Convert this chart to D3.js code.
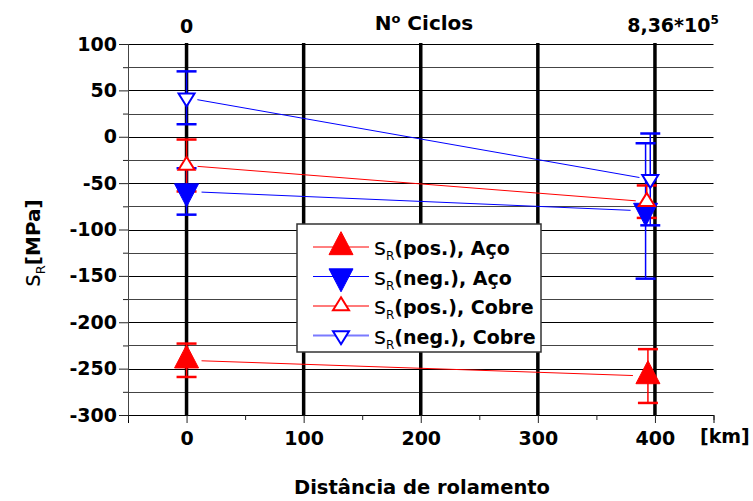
<!DOCTYPE html>
<html>
<head>
<meta charset="utf-8">
<script src="https://cdn.jsdelivr.net/npm/d3@7"></script>
<style>
    body { margin: 0; background: #fff; }
    text { font-family: "DejaVu Sans", Arial, sans-serif; font-weight: bold; fill: #000; }
</style>
</head>
<body>
<svg id="chart" width="753" height="501"></svg>
<script>
// Data (x in km, residual stress in MPa)
const xTicksMajor = [0, 100, 200, 300, 400];
const xTicksMinor = [-50, 50, 150, 250, 350, 450];
const yTicksMajor = [100, 50, 0, -50, -100, -150, -200, -250, -300];
const yTicksMinor = [75, 25, -25, -75, -125, -175, -225, -275];

const legendLabels = ["(pos.), Aço", "(neg.), Aço", "(pos.), Cobre", "(neg.), Cobre"];

const posAcoX = [0, 394];
const posAco = [-241, -258];
const posAcoErr = [18, 29];

const negAcoX = [0, 392];
const negAco = [-59, -80];
const negAcoErr = [25, 73];

const posCobreX = [0, 393];
const posCobre = [-31, -70];
const posCobreErr = [28, 17.5];

const negCobreX = [0, 396];
const negCobre = [42, -46];
const negCobreErr = [28.5, 49.5];

const series = [
    { x: posAcoX, y: posAco, err: posAcoErr, color: "#ff0000", legendColor: "#ff0000", dir: "up", filled: true },
    { x: negAcoX, y: negAco, err: negAcoErr, color: "#0000ff", legendColor: "#0000ff", dir: "down", filled: true },
    { x: posCobreX, y: posCobre, err: posCobreErr, color: "#ff0000", legendColor: "#ff7a7a", dir: "up", filled: false },
    { x: negCobreX, y: negCobre, err: negCobreErr, color: "#0000ff", legendColor: "#7a7aff", dir: "down", filled: false }
];

const svg = d3.select("#chart");

const x = d3.scaleLinear().domain([-50, 450]).range([128, 713.5]);
const y = d3.scaleLinear().domain([-300, 100]).range([415, 44]);

// plain hyphen for negative numbers, like the original
const fmt = d => String(d);

// Triangle path with its centroid at the origin
function trianglePath(dir, w, h) {
    const s = dir === "up" ? 1 : -1;
    return `M0,${-s * 2 * h / 3}L${w / 2},${s * h / 3}L${-w / 2},${s * h / 3}Z`;
}

function markerSize(d) {
    return d.filled ? { w: 24, h: 23 } : { w: 16, h: 13 };
}

// Grid lines
const grid = svg.append("g");
grid.selectAll(".hgrid")
    .data(yTicksMajor.concat(yTicksMinor))
    .enter().append("line")
    .attr("x1", x(-50)).attr("x2", x(450))
    .attr("y1", d => Math.round(y(d)) + 0.5)
    .attr("y2", d => Math.round(y(d)) + 0.5)
    .attr("stroke", d => d % 50 === 0 ? "#000" : "#444")
    .attr("stroke-width", 1);

grid.selectAll(".vgrid")
    .data(xTicksMajor)
    .enter().append("line")
    .attr("x1", d => x(d)).attr("x2", d => x(d))
    .attr("y1", y(100) - 1).attr("y2", y(-300))
    .attr("stroke", "#000")
    .attr("stroke-width", 3.5);

// Axes
const yAxis = svg.append("g")
    .attr("transform", `translate(${x(-50)},0)`)
    .call(d3.axisLeft(y).tickValues(yTicksMajor).tickSize(9).tickPadding(2).tickFormat(fmt));
svg.append("g")
    .attr("transform", `translate(${x(-50)},0)`)
    .call(d3.axisLeft(y).tickValues(yTicksMinor).tickSize(5).tickFormat(""))
    .select(".domain").remove();

const xAxis = svg.append("g")
    .attr("transform", `translate(0,${y(-300)})`)
    .call(d3.axisBottom(x).tickValues(xTicksMajor).tickSize(8).tickPadding(9).tickFormat(fmt));
svg.append("g")
    .attr("transform", `translate(0,${y(-300)})`)
    .call(d3.axisBottom(x).tickValues(xTicksMinor).tickSize(5).tickFormat(""))
    .select(".domain").remove();

svg.selectAll(".tick text")
    .style("font-family", "'DejaVu Sans', Arial, sans-serif")
    .style("font-weight", "bold")
    .style("font-size", "19px");
svg.selectAll(".tick line").attr("stroke", "#222");
yAxis.select(".domain").attr("stroke", "#444");
xAxis.select(".domain").attr("stroke", "#000");

// Connecting lines, trimmed so they stop short of the markers
const lines = svg.append("g");
series.forEach(s => {
    const x0 = x(s.x[0]), y0 = y(s.y[0]);
    const x1 = x(s.x[1]), y1 = y(s.y[1]);
    const len = Math.hypot(x1 - x0, y1 - y0);
    const gap = markerSize(s).w / 2 + 3;
    const ux = (x1 - x0) / len, uy = (y1 - y0) / len;
    lines.append("line")
        .attr("x1", x0 + ux * gap).attr("y1", y0 + uy * gap)
        .attr("x2", x1 - ux * gap).attr("y2", y1 - uy * gap)
        .attr("stroke", s.color)
        .attr("stroke-width", 1);
});

// Error bars
const errs = svg.append("g");
series.forEach(s => {
    s.x.forEach((xv, i) => {
        const top = y(s.y[i] + s.err[i]);
        const bot = y(s.y[i] - s.err[i]);
        errs.append("line")
            .attr("x1", x(xv)).attr("x2", x(xv))
            .attr("y1", top).attr("y2", bot)
            .attr("stroke", s.color).attr("stroke-width", 1.5);
        [top, bot].forEach(cy => {
            errs.append("line")
                .attr("x1", x(xv) - 10).attr("x2", x(xv) + 10)
                .attr("y1", cy).attr("y2", cy)
                .attr("stroke", s.color).attr("stroke-width", 2.5);
        });
    });
});

// Markers
const marks = svg.append("g");
series.forEach(s => {
    const m = markerSize(s);
    s.x.forEach((xv, i) => {
        marks.append("path")
            .attr("d", trianglePath(s.dir, m.w, m.h))
            .attr("transform", `translate(${x(xv)},${y(s.y[i])})`)
            .attr("fill", s.filled ? s.color : "#fff")
            .attr("stroke", s.color)
            .attr("stroke-width", s.filled ? 1 : 2);
    });
});

// Legend
const legend = svg.append("g").attr("transform", "translate(297,224)");
legend.append("rect")
    .attr("width", 244).attr("height", 128)
    .attr("fill", "#fff")
    .attr("stroke", "#333")
    .attr("stroke-width", 1.5);

series.forEach((s, i) => {
    const row = legend.append("g").attr("transform", `translate(0,${23 + i * 29.5})`);
    row.append("line")
        .attr("x1", 16).attr("x2", 72)
        .attr("stroke", s.legendColor)
        .attr("stroke-width", s.filled ? 1 : 2);
    const m = markerSize(s);
    row.append("path")
        .attr("d", trianglePath(s.dir, m.w, m.h))
        .attr("transform", "translate(44,0)")
        .attr("fill", s.filled ? s.color : "#fff")
        .attr("stroke", s.color)
        .attr("stroke-width", s.filled ? 1 : 2);
    const t = row.append("text").attr("x", 77).attr("y", 8).style("font-size", "19px");
    t.append("tspan").text("s").style("font-weight", "normal").style("font-size", "23px");
    t.append("tspan").text("R").attr("dy", 5).style("font-size", "12px").style("font-weight", "normal");
    t.append("tspan").text(legendLabels[i]).attr("dy", -5);
});

// Top labels (number of cycles)
svg.append("text")
    .attr("x", x(0)).attr("y", 33)
    .attr("text-anchor", "middle")
    .style("font-size", "19px")
    .text("0");

const ciclos = svg.append("text")
    .attr("x", 424).attr("y", 30)
    .attr("text-anchor", "middle")
    .style("font-size", "20px");
ciclos.append("tspan").text("N");
ciclos.append("tspan").text("o").attr("dy", -7).style("font-size", "13px");
ciclos.append("tspan").text(" Ciclos").attr("dy", 7);

const cycles = svg.append("text")
    .attr("x", 673).attr("y", 32)
    .attr("text-anchor", "middle")
    .style("font-size", "19px");
cycles.append("tspan").text("8,36*10");
cycles.append("tspan").text("5").attr("dy", -8).style("font-size", "12px");

// Axis titles
svg.append("text")
    .attr("x", 700).attr("y", 443)
    .style("font-size", "19px")
    .text("[km]");

svg.append("text")
    .attr("x", 422).attr("y", 494)
    .attr("text-anchor", "middle")
    .style("font-size", "19.5px")
    .text("Distância de rolamento");

const ylab = svg.append("text")
    .attr("transform", "translate(40,243) rotate(-90)")
    .attr("text-anchor", "middle")
    .style("font-size", "20px");
ylab.append("tspan").text("s").style("font-weight", "normal").style("font-size", "24px");
ylab.append("tspan").text("R").attr("dy", 5).style("font-size", "13px").style("font-weight", "normal");
ylab.append("tspan").text("[MPa]").attr("dy", -5);
</script>
</body>
</html>
